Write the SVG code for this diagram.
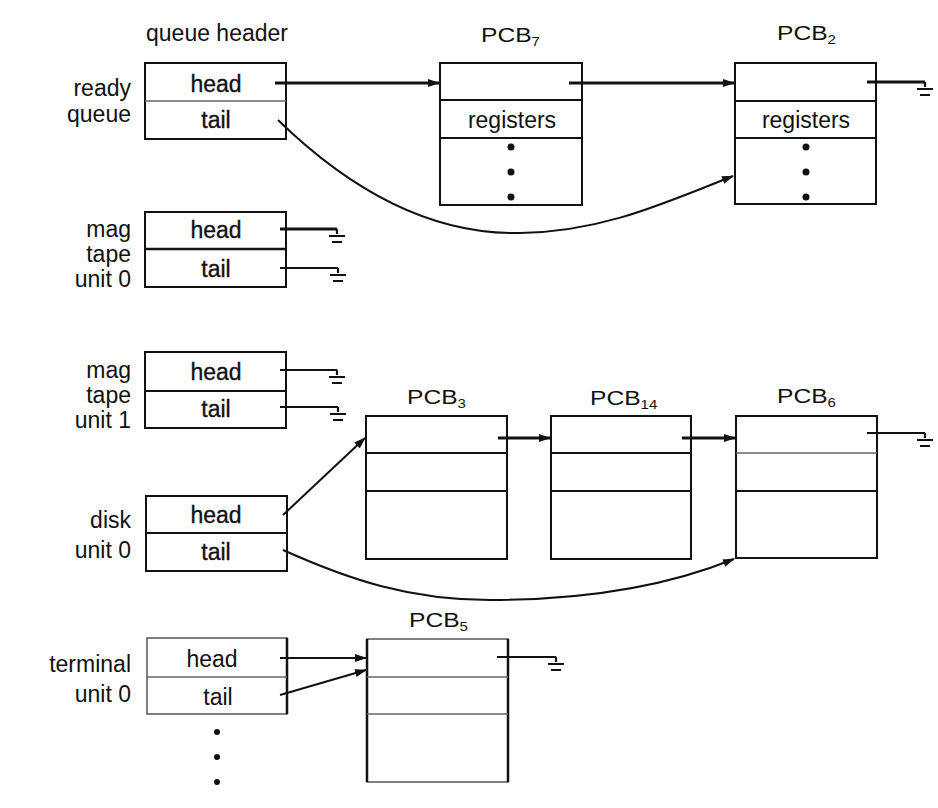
<svg xmlns="http://www.w3.org/2000/svg" width="938" height="808" viewBox="0 0 938 808">
  <defs>
    <style>
      text { font-family: "Liberation Sans", Arial, sans-serif; fill: #111; }
      .lbl { font-size: 23px; text-anchor: end; }
      .cell { font-size: 23px; text-anchor: middle; }
      .heavy { stroke: #111; stroke-width: 0.35px; }
      .pcb { font-size: 20.5px; }
      .sub { font-size: 12.5px; }
      .box { fill: #fff; stroke: #111; stroke-width: 2; }
      .div { stroke: #111; stroke-width: 2; }
      .thin { stroke: #666; stroke-width: 1.5; }
      .ptr { fill: none; stroke: #111; stroke-width: 3; }
      .ptr-thin { fill: none; stroke: #111; stroke-width: 2; }
      .gnd { fill: none; stroke: #111; stroke-width: 2.2; }
      .dot { fill: #111; }
    </style>
    <marker id="arrow" viewBox="0 0 12 10" refX="11" refY="5" markerWidth="12" markerHeight="10" markerUnits="userSpaceOnUse" orient="auto">
      <path d="M0,1 L12,5 L0,9 Z" fill="#111"/>
    </marker>
    <!-- ground symbol marking a null pointer; origin at the end of the pointer line -->
    <g id="ground">
      <path class="gnd" d="M0,0 v5 M-8,7 h16 M-5,13 h10"/>
    </g>
  </defs>

  <rect width="938" height="808" fill="#fff"/>

  <text x="217" y="41" style="font-size:23px;text-anchor:middle">queue header</text>

  <!-- ready queue header -->
  <g id="ready-queue">
    <text class="lbl" x="131" y="96">ready</text>
    <text class="lbl" x="131" y="122">queue</text>
    <rect class="box" x="145" y="63" width="141" height="76"/>
    <line class="thin" x1="145" y1="101" x2="286" y2="101"/>
    <text class="cell heavy" x="216" y="92">head</text>
    <text class="cell heavy" x="216" y="128">tail</text>
  </g>

  <!-- PCB 7 -->
  <g id="pcb7">
    <text class="pcb" transform="translate(481,42) scale(1.2,1)">PCB<tspan class="sub" dy="4">7</tspan></text>
    <rect class="box" x="440" y="63" width="142" height="142"/>
    <line class="div" x1="440" y1="100" x2="582" y2="100"/>
    <line class="div" x1="440" y1="138" x2="582" y2="138"/>
    <text class="cell" x="512" y="128">registers</text>
    <circle class="dot" cx="511" cy="147" r="3.5"/>
    <circle class="dot" cx="511" cy="172" r="3.5"/>
    <circle class="dot" cx="511" cy="197" r="3.5"/>
  </g>

  <!-- PCB 2 -->
  <g id="pcb2">
    <text class="pcb" transform="translate(777,40) scale(1.2,1)">PCB<tspan class="sub" dy="4">2</tspan></text>
    <rect class="box" x="735" y="63" width="141" height="141"/>
    <line class="div" x1="735" y1="101" x2="876" y2="101"/>
    <line class="div" x1="735" y1="138" x2="876" y2="138"/>
    <text class="cell" x="806" y="128">registers</text>
    <circle class="dot" cx="806" cy="147" r="3.5"/>
    <circle class="dot" cx="806" cy="172" r="3.5"/>
    <circle class="dot" cx="806" cy="197" r="3.5"/>
  </g>

  <!-- mag tape unit 0 header -->
  <g id="mag-tape-0">
    <text class="lbl" x="131" y="237">mag</text>
    <text class="lbl" x="131" y="262">tape</text>
    <text class="lbl" x="131" y="287">unit 0</text>
    <rect class="box" x="145" y="212" width="141" height="75"/>
    <line class="div" x1="145" y1="249" x2="286" y2="249" style="stroke-width:2.5"/>
    <text class="cell heavy" x="216" y="238">head</text>
    <text class="cell heavy" x="216" y="277">tail</text>
  </g>

  <!-- mag tape unit 1 header -->
  <g id="mag-tape-1">
    <text class="lbl" x="131" y="378">mag</text>
    <text class="lbl" x="131" y="403">tape</text>
    <text class="lbl" x="131" y="428">unit 1</text>
    <rect class="box" x="145" y="352" width="141" height="76"/>
    <line class="div" x1="145" y1="391" x2="286" y2="391"/>
    <text class="cell heavy" x="216" y="380">head</text>
    <text class="cell heavy" x="216" y="417">tail</text>
  </g>

  <!-- disk unit 0 header -->
  <g id="disk-0">
    <text class="lbl" x="131" y="528">disk</text>
    <text class="lbl" x="131" y="558">unit 0</text>
    <rect class="box" x="146" y="496" width="141" height="75"/>
    <line class="div" x1="146" y1="533" x2="287" y2="533"/>
    <text class="cell heavy" x="216" y="523">head</text>
    <text class="cell heavy" x="216" y="560">tail</text>
  </g>

  <!-- PCB 3 -->
  <g id="pcb3">
    <text class="pcb" transform="translate(407,404) scale(1.2,1)">PCB<tspan class="sub" dy="4">3</tspan></text>
    <rect class="box" x="366" y="416" width="141" height="143"/>
    <line class="div" x1="366" y1="453" x2="507" y2="453"/>
    <line class="div" x1="366" y1="491" x2="507" y2="491"/>
  </g>

  <!-- PCB 14 -->
  <g id="pcb14">
    <text class="pcb" transform="translate(590,405) scale(1.2,1)">PCB<tspan class="sub" dy="4">14</tspan></text>
    <rect class="box" x="551" y="416" width="140" height="143"/>
    <line class="div" x1="551" y1="453" x2="691" y2="453"/>
    <line class="div" x1="551" y1="491" x2="691" y2="491"/>
  </g>

  <!-- PCB 6 -->
  <g id="pcb6">
    <text class="pcb" transform="translate(777,403) scale(1.2,1)">PCB<tspan class="sub" dy="4">6</tspan></text>
    <rect class="box" x="736" y="416" width="141" height="142"/>
    <line class="thin" x1="736" y1="453" x2="877" y2="453"/>
    <line class="div" x1="736" y1="491" x2="877" y2="491"/>
  </g>

  <!-- terminal unit 0 header -->
  <g id="terminal-0">
    <text class="lbl" x="131" y="672">terminal</text>
    <text class="lbl" x="131" y="702">unit 0</text>
    <rect class="box" x="147" y="638" width="140" height="76" style="stroke:#555;stroke-width:1.5"/>
    <line x1="287" y1="638" x2="287" y2="714" stroke="#111" stroke-width="2.5"/>
    <line class="thin" x1="147" y1="677" x2="287" y2="677"/>
    <text class="cell" x="212" y="667">head</text>
    <text class="cell" x="218" y="705">tail</text>
    <circle class="dot" cx="217" cy="732" r="3"/>
    <circle class="dot" cx="217" cy="757" r="3"/>
    <circle class="dot" cx="217" cy="782" r="3"/>
  </g>

  <!-- PCB 5 -->
  <g id="pcb5">
    <text class="pcb" transform="translate(409,627) scale(1.2,1)">PCB<tspan class="sub" dy="4">5</tspan></text>
    <rect class="box" x="367" y="639" width="141" height="143" style="stroke:#555;stroke-width:1.5"/>
    <line x1="367" y1="639" x2="367" y2="782" stroke="#111" stroke-width="2.5"/>
    <line x1="508" y1="639" x2="508" y2="782" stroke="#111" stroke-width="2.5"/>
    <line class="thin" x1="367" y1="677" x2="508" y2="677"/>
    <line class="thin" x1="367" y1="714" x2="508" y2="714"/>
  </g>

  <!-- pointers -->
  <g id="connectors">
    <!-- ready queue -->
    <line class="ptr" x1="275" y1="83" x2="439" y2="83" marker-end="url(#arrow)"/>
    <line class="ptr" x1="569" y1="83" x2="734" y2="83" marker-end="url(#arrow)"/>
    <line class="ptr" x1="867" y1="82" x2="925" y2="82"/>
    <use href="#ground" x="925" y="82"/>
    <path class="ptr-thin" d="M278,120 C350,190 430,235 520,233 C600,232 660,205 733,176" marker-end="url(#arrow)"/>

    <!-- mag tape unit 0 -->
    <line class="ptr" x1="280" y1="229" x2="337" y2="229"/>
    <use href="#ground" x="337" y="229"/>
    <line class="ptr-thin" x1="280" y1="268" x2="338" y2="268"/>
    <use href="#ground" x="338" y="268"/>

    <!-- mag tape unit 1 -->
    <line class="ptr-thin" x1="280" y1="370" x2="337" y2="370"/>
    <use href="#ground" x="337" y="370"/>
    <line class="ptr-thin" x1="280" y1="407" x2="338" y2="407"/>
    <use href="#ground" x="338" y="407"/>

    <!-- disk unit 0 -->
    <line class="ptr-thin" x1="283" y1="515" x2="365" y2="438" marker-end="url(#arrow)"/>
    <line class="ptr" x1="498" y1="438" x2="550" y2="438" marker-end="url(#arrow)"/>
    <line class="ptr" x1="682" y1="438" x2="735" y2="438" marker-end="url(#arrow)"/>
    <line class="ptr-thin" x1="867" y1="433" x2="925" y2="433"/>
    <use href="#ground" x="925" y="433"/>
    <path class="ptr-thin" d="M283,550 C350,580 410,600 490,600 C590,600 670,585 734,559" marker-end="url(#arrow)"/>

    <!-- terminal unit 0 -->
    <line class="ptr-thin" x1="280" y1="658" x2="366" y2="658" marker-end="url(#arrow)"/>
    <line class="ptr-thin" x1="280" y1="695" x2="366" y2="670" marker-end="url(#arrow)"/>
    <line class="ptr-thin" x1="497" y1="657" x2="556" y2="657"/>
    <use href="#ground" x="556" y="657"/>
  </g>
</svg>
